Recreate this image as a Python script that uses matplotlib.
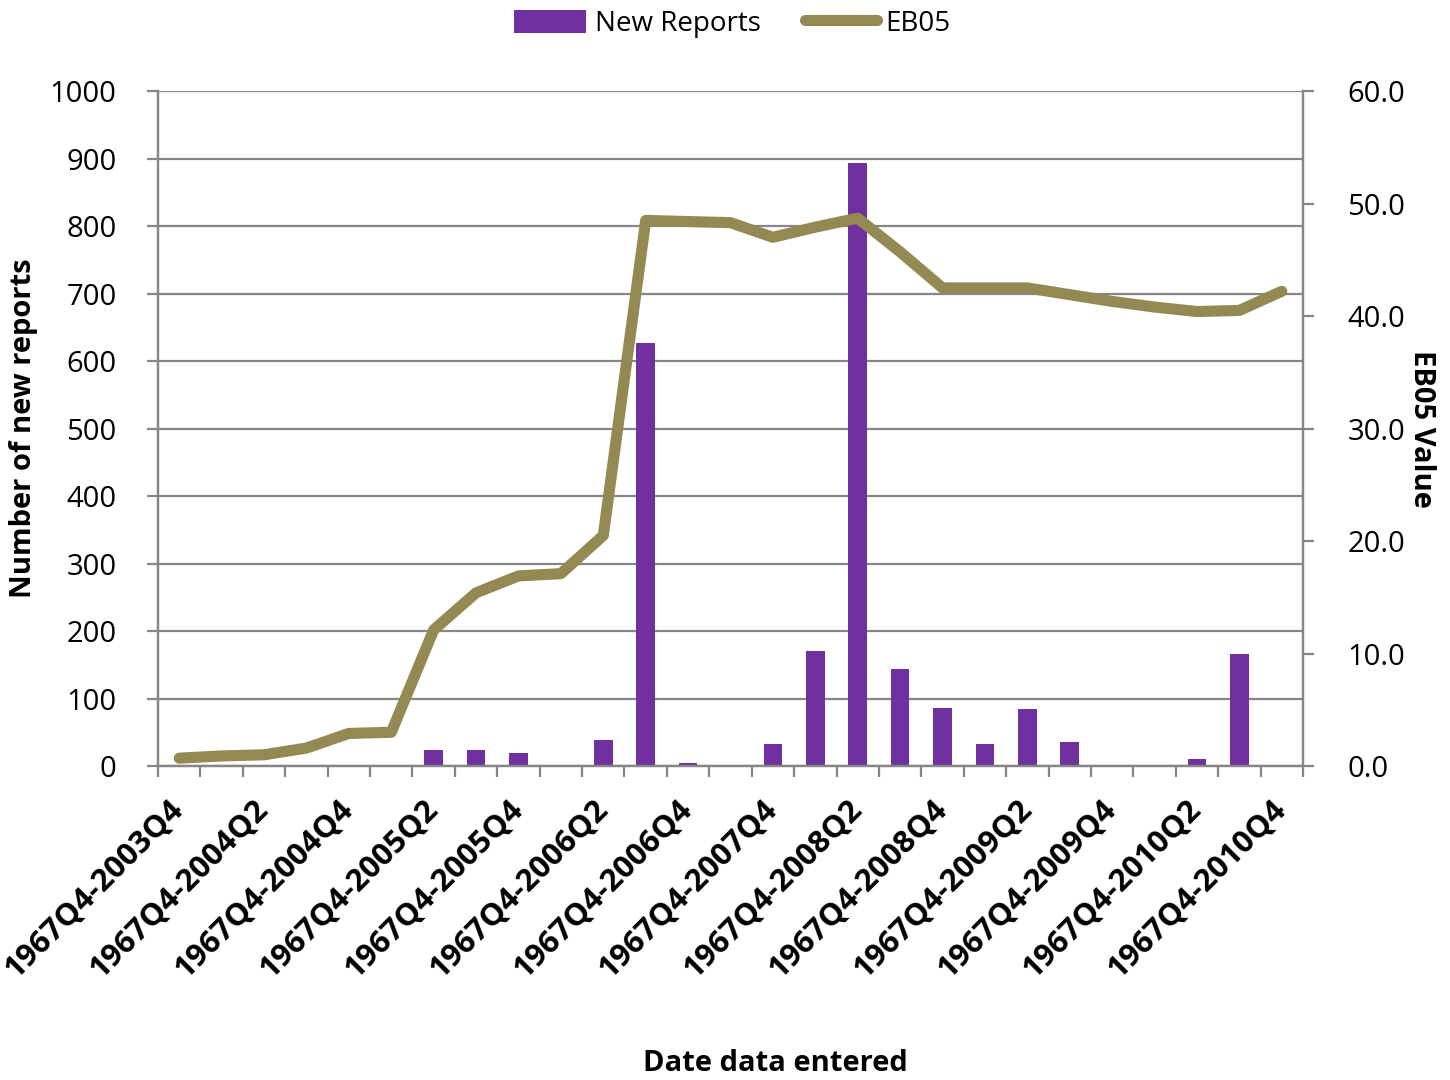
import numpy as np
import matplotlib
matplotlib.use("Agg")
import matplotlib.pyplot as plt
from matplotlib.transforms import ScaledTranslation

plt.rcParams['font.family'] = ['Open Sans', 'DejaVu Sans']

# quarters (cumulative periods)
periods = ['1967Q4-2003Q4', '1967Q4-2004Q1', '1967Q4-2004Q2', '1967Q4-2004Q3',
           '1967Q4-2004Q4', '1967Q4-2005Q1', '1967Q4-2005Q2', '1967Q4-2005Q3',
           '1967Q4-2005Q4', '1967Q4-2006Q1', '1967Q4-2006Q2', '1967Q4-2006Q3',
           '1967Q4-2006Q4', '1967Q4-2007Q2', '1967Q4-2007Q4', '1967Q4-2008Q1',
           '1967Q4-2008Q2', '1967Q4-2008Q3', '1967Q4-2008Q4', '1967Q4-2009Q1',
           '1967Q4-2009Q2', '1967Q4-2009Q3', '1967Q4-2009Q4', '1967Q4-2010Q1',
           '1967Q4-2010Q2', '1967Q4-2010Q3', '1967Q4-2010Q4']

new_reports = [0, 0, 0, 0, 2, 0, 24, 24, 20, 0, 39, 627,
               5, 2, 32, 170, 893, 144, 86, 33, 85, 35,
               0, 2, 11, 166, 0]

eb05 = [0.7, 0.9, 1.0, 1.6, 2.9, 3.0, 12.1, 15.4, 16.9, 17.1, 20.5, 48.5,
        48.4, 48.3, 47.0, 47.9, 48.7, 45.7, 42.5, 42.5, 42.5, 41.9,
        41.3, 40.8, 40.4, 40.5, 42.2]

purple = '#7030A0'
olive = '#938953'
grey = '#868686'

x = np.arange(len(periods))

fig = plt.figure(figsize=(14.5, 10.8), dpi=100)
ax = fig.add_axes([0.109, 0.2907, 0.7896, 0.625])
ax2 = ax.twinx()

bars = ax.bar(x, new_reports, width=0.44, color=purple, label='New Reports', zorder=2)
line, = ax2.plot(x, eb05, color=olive, lw=8, solid_joinstyle='round',
                 solid_capstyle='round', label='EB05')

ax.set_xlim(-0.5, len(periods) - 0.5)
ax.set_ylim(0, 1000)
ax.set_yticks(np.arange(0, 1001, 100))
ax2.set_ylim(0, 60)
ax2.set_yticks(np.arange(0, 61, 10))
ax2.set_yticklabels(['%.1f' % v for v in np.arange(0, 61, 10)])

ax.yaxis.grid(True, color=grey, lw=1.6)
ax.set_axisbelow(True)

# ticks at category boundaries, labels on every other category
ax.set_xticks(np.arange(-0.5, len(periods), 1), minor=True)
ax.set_xticks(x[::2])
ax.set_xticklabels(periods[::2], rotation=45, ha='right', va='center',
                   rotation_mode='anchor', fontsize=22.5, fontweight='bold')
shift = ScaledTranslation(0.18, 0, fig.dpi_scale_trans)
for lab in ax.get_xticklabels():
    lab.set_transform(lab.get_transform() + shift)
ax.tick_params(axis='x', which='major', length=0, pad=28)
ax.tick_params(axis='x', which='minor', length=8, width=1.6, color=grey)
ax.tick_params(axis='y', length=8, width=1.6, color=grey, labelsize=21, pad=22)
ax2.tick_params(axis='y', length=8, width=1.6, color=grey, labelsize=21, pad=24)

for a in (ax, ax2):
    a.spines['top'].set_visible(False)
    for s in ('left', 'right', 'bottom'):
        a.spines[s].set_color(grey)
        a.spines[s].set_linewidth(1.6)

ax.set_ylabel('Number of new reports', fontsize=21, fontweight='bold', labelpad=8)
ax2.set_ylabel('EB05 Value', fontsize=21, fontweight='bold', rotation=270, labelpad=22)
ax.set_xlabel('Date data entered', fontsize=21, fontweight='bold')
ax.xaxis.label.set_va('center')
ax.xaxis.set_label_coords(0.539, -0.441)

fig.legend([bars, line], ['New Reports', 'EB05'], loc='upper center',
           bbox_to_anchor=(0.505, 1.014), ncol=2, frameon=False, fontsize=20,
           handlelength=2.6, handleheight=0.9, columnspacing=1.6, handletextpad=0.3)

fig.savefig('out.png', dpi=100)
